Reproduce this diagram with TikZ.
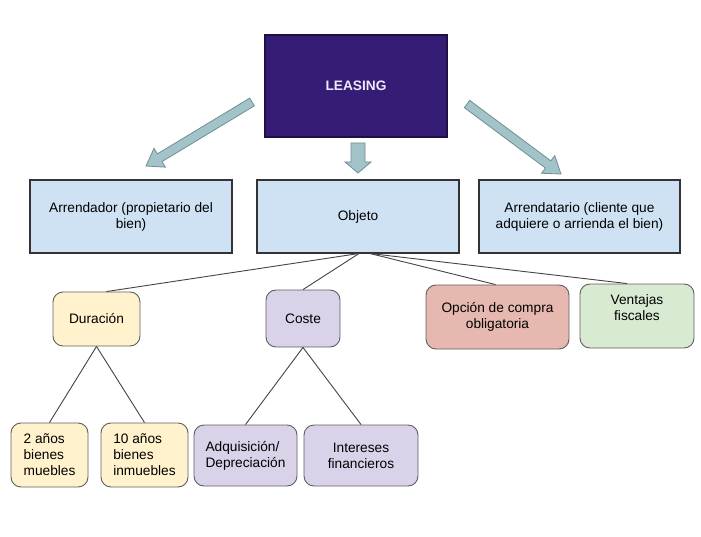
\documentclass[tikz,border=0pt]{standalone}
\usepackage{fontspec}
\setmainfont{Liberation Sans}
\usetikzlibrary{calc}
\definecolor{leasefill}{HTML}{351C75}
\definecolor{leasedraw}{HTML}{1E1045}
\definecolor{leasetext}{HTML}{EDE8FA}
\definecolor{bluefill}{HTML}{CFE2F3}
\definecolor{yellowfill}{HTML}{FFF2CC}
\definecolor{purplefill}{HTML}{D9D2E9}
\definecolor{redfill}{HTML}{E6B8AF}
\definecolor{greenfill}{HTML}{D9EAD3}
\definecolor{arrowfill}{HTML}{A2C4C9}
\definecolor{arrowdraw}{HTML}{6E8F94}
\definecolor{linecol}{HTML}{444444}
\definecolor{roundedge}{HTML}{5F5F5F}
\newcommand{\blkarrow}[5]{%
  \coordinate (bh) at ($(#2)!#5!(#1)$);
  \draw[arrowst] ($(#1)!#3!90:(#2)$) -- ($(bh)!#3!90:(#2)$) -- ($(bh)!#4!90:(#2)$) -- (#2)
    -- ($(bh)!#4!-90:(#2)$) -- ($(bh)!#3!-90:(#2)$) -- ($(#1)!#3!-90:(#2)$) -- cycle;}
\begin{document}
\begin{tikzpicture}[x=1pt,y=-1pt,
  font=\fontsize{13.7}{16}\selectfont,
  sqbox/.style={draw=black!80, line width=1.2pt, fill=bluefill, inner sep=2pt, align=center},
  rbox/.style={draw=roundedge, line width=0.9pt, rounded corners=10pt, inner sep=2pt, align=center},
  arrowst/.style={draw=arrowdraw, line width=0.8pt, fill=arrowfill, line join=miter},
  conn/.style={draw=linecol, line width=0.9pt}]
\useasboundingbox (0,0) rectangle (701,537);
\fill[white] (0,0) rectangle (701,537);

\node[draw=leasedraw, line width=1.2pt, fill=leasefill, text=leasetext, font=\fontsize{13.7}{16}\selectfont\bfseries,
  minimum width=182pt, minimum height=102pt] (leasing) at (356,86) {LEASING};

\node[sqbox, minimum width=202pt, minimum height=73pt] (arr) at (131,216.5) {Arrendador (propietario del\\bien)};
\node[sqbox, minimum width=202pt, minimum height=73pt] (obj) at (358,216.5) {Objeto};
\node[sqbox, minimum width=201pt, minimum height=73pt] (arrt) at (579.5,216.5) {Arrendatario (cliente que\\adquiere o arrienda el bien)};

\coordinate (lt) at (252,102); \coordinate (lh) at (146,166);
\coordinate (mt) at (358,143); \coordinate (mh) at (358,173);
\coordinate (rt) at (467,104); \coordinate (rh) at (561,174);
\blkarrow{lt}{lh}{4.5pt}{11pt}{16pt}
\blkarrow{mt}{mh}{7pt}{13pt}{11pt}
\blkarrow{rt}{rh}{4.5pt}{11pt}{16pt}

\node[rbox, fill=yellowfill, minimum width=87pt, minimum height=54pt] (dur) at (96.5,319) {Duración};
\node[rbox, fill=purplefill, minimum width=74pt, minimum height=57pt] (coste) at (303,318.5) {Coste};
\node[rbox, fill=redfill, minimum width=143pt, minimum height=64pt] (opc) at (497.5,317) {Opción de compra\\obligatoria};
\node[rbox, fill=greenfill, minimum width=114pt, minimum height=64pt] (vent) at (637,316) {};
\node[align=center, inner sep=0pt] (ventt) at (637,308) {Ventajas\\fiscales};

\node[rbox, fill=yellowfill, minimum width=77pt, minimum height=64pt, align=left] (a2) at (49.5,455) {2 años\\bienes\\muebles};
\node[rbox, fill=yellowfill, minimum width=87pt, minimum height=64pt, align=left] (a10) at (144.5,455) {10 años\\bienes\\inmuebles};
\node[rbox, fill=purplefill, minimum width=103pt, minimum height=61pt, align=left] (adq) at (245.5,455.5) {Adquisición/\\Depreciación};
\node[rbox, fill=purplefill, minimum width=114pt, minimum height=61pt] (int) at (361,455.5) {Intereses\\financieros};

\coordinate (hubl) at (359,253.5);
\coordinate (hubr) at (370,253.5);
\draw[conn] (hubl) -- ([xshift=10pt]dur.north);
\draw[conn] (hubl) -- (coste.north);
\draw[conn] (hubr) -- ([xshift=-2pt]opc.north);
\draw[conn] (hubr) -- ([xshift=-10pt]vent.north);
\draw[conn] (dur.south) -- (a2.north);
\draw[conn] (dur.south) -- (a10.north);
\draw[conn] (coste.south) -- (adq.north);
\draw[conn] (coste.south) -- (int.north);
\end{tikzpicture}
\end{document}
